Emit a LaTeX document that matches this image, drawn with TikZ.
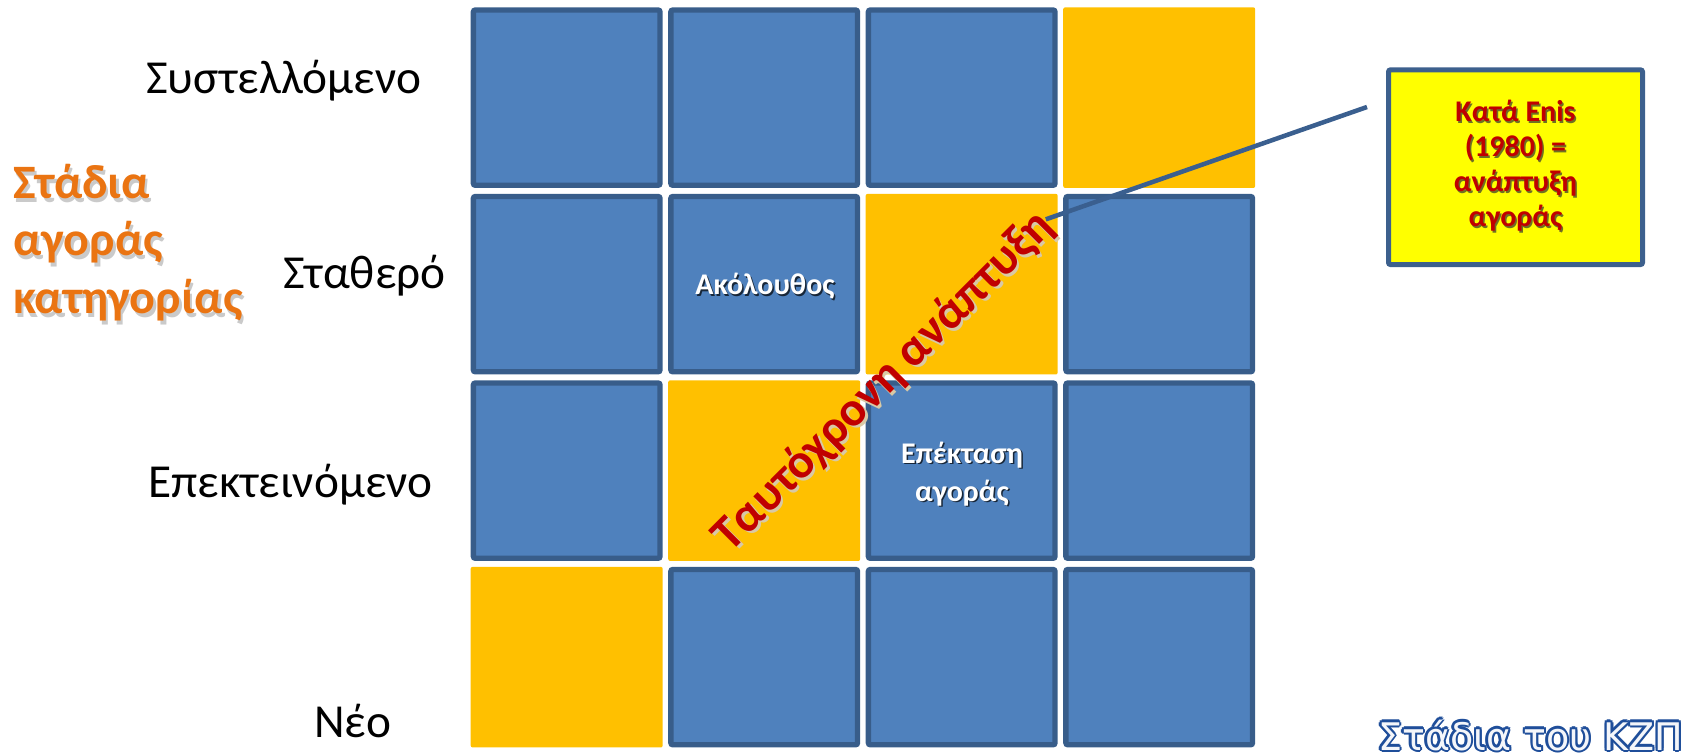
\documentclass[tikz,border=0pt]{standalone}
\usepackage{fontspec}
\setmainfont{Carlito}
\newfontfamily\kzpfont{DejaVu Sans}
\usetikzlibrary{calc}
\definecolor{cellblue}{HTML}{4F81BD}
\definecolor{cellborder}{HTML}{385D8A}
\definecolor{cellyellow}{HTML}{FFC000}
\definecolor{boxyellow}{HTML}{FFFF00}
\definecolor{boxborder}{HTML}{3D608D}
\definecolor{linkblue}{HTML}{3A5F8F}
\definecolor{darkred}{HTML}{C00000}
\definecolor{stageorange}{HTML}{EA7412}
\definecolor{kzpblue}{HTML}{1F4E9A}
\definecolor{kzpfill}{HTML}{F4F6FA}
\definecolor{glow}{HTML}{D8C9A6}
\begin{document}
\begin{tikzpicture}[x=0.75pt,y=-0.75pt,
  bcell/.style={rectangle, draw=cellborder, fill=cellblue, line width=4pt,
    minimum width=140pt, minimum height=131.5pt, inner sep=0pt, outer sep=0pt, rounded corners=1.5pt},
  ycell/.style={rectangle, fill=cellyellow, draw=none,
    minimum width=144pt, minimum height=135.5pt, inner sep=0pt, outer sep=0pt, rounded corners=1.5pt},
  lab/.style={inner sep=0pt, anchor=base west, font=\fontsize{35.5}{42}\selectfont, text=black},
  stage/.style={inner sep=0pt, anchor=base west, font=\bfseries\fontsize{36}{43}\selectfont, text=stageorange},
  stageshadow/.style={stage, text=black!35, opacity=0.6},
  celltext/.style={inner sep=0pt, anchor=base, font=\bfseries\fontsize{22.5}{27}\selectfont, text=white},
  celltextshadow/.style={celltext, text=black, opacity=0.7},
  diagtext/.style={inner sep=0pt, anchor=base, rotate=45, font=\bfseries\fontsize{36.5}{42}\selectfont, text=darkred},
  diagshadow/.style={diagtext, text=glow},
  boxtext/.style={inner sep=0pt, anchor=base, font=\bfseries\fontsize{22.5}{27}\selectfont, text=darkred},
  boxtextshadow/.style={boxtext, text=black!80, opacity=0.7},
  callout/.style={rectangle, draw=boxborder, fill=boxyellow, line width=3.75pt,
    minimum width=190.5pt, minimum height=146pt, inner sep=0pt, rounded corners=1.5pt},
  conn/.style={draw=linkblue, line width=3.4pt},
  kzp/.style={inner sep=0pt, anchor=base west, font=\kzpfont\fontsize{28.5}{34}\selectfont}
]
\useasboundingbox (0,0) rectangle (1697,756);

% grid of cells
\foreach \r in {0,1,2,3}{
  \foreach \c in {0,1,2,3}{
    \pgfmathtruncatemacro\s{\r+\c}
    \ifnum\s=3
      \node[ycell] (c\r\c) at ({566.7+197.5*\c},{97.65+186.5*\r}) {};
    \else
      \node[bcell] (c\r\c) at ({566.7+197.5*\c},{97.65+186.5*\r}) {};
    \fi
  }
}

% row labels
\node[lab] (lsys) at (146,94) {Συστελλόμενο};
\node[lab] (lsta) at (283,288) {Σταθερό};
\node[lab] (lepe) at (148,497.3) {Επεκτεινόμενο};
\node[lab] (lneo) at (314,737.7) {Νέο};

% axis title
\node[stageshadow] (s1s) at (15.5,202.5) {Στάδια};
\node[stageshadow] (s2s) at (15.5,259.5) {αγοράς};
\node[stageshadow] (s3s) at (15.5,317.5) {κατηγορίας};
\node[stage] (s1) at (13,199) {Στάδια};
\node[stage] (s2) at (13,256) {αγοράς};
\node[stage] (s3) at (13,314) {κατηγορίας};

% cell texts
\node[celltextshadow] (akos) at (766.5,296.5) {Ακόλουθος};
\node[celltext] (ako) at (765,295) {Ακόλουθος};
\node[celltextshadow] (ep1s) at (963.5,464.5) {Επέκταση};
\node[celltextshadow] (ep2s) at (963.5,502.5) {αγοράς};
\node[celltext] (ep1) at (962,463) {Επέκταση};
\node[celltext] (ep2) at (962,501) {αγοράς};

% diagonal text
\node[diagshadow] (diags) at (895.5,393.5) {Ταυτόχρονη ανάπτυξη};
\node[diagtext] (diag) at (893,391) {Ταυτόχρονη ανάπτυξη};

% callout box
\node[callout] (box) at (1515.5,167.2) {};
\coordinate (linkend) at (1367,107);
\draw[conn] (diag.east) -- (linkend);
\node[boxtextshadow] (b1s) at (1517,123.2) {Κατά Enis};
\node[boxtextshadow] (b2s) at (1517,158.2) {(1980) =};
\node[boxtextshadow] (b3s) at (1517,193.2) {ανάπτυξη};
\node[boxtextshadow] (b4s) at (1517,228.2) {αγοράς};
\node[boxtext] (b1) at (1515.5,121.7) {Κατά Enis};
\node[boxtext] (b2) at (1515.5,156.7) {(1980) =};
\node[boxtext] (b3) at (1515.5,191.7) {ανάπτυξη};
\node[boxtext] (b4) at (1515.5,226.7) {αγοράς};

% bottom-right title (outlined)
\foreach \a in {0,45,...,315}{
  \node[kzp, text=kzpblue] at ($(1378,750)+(\a:2.4)$) {Στάδια του ΚΖΠ};
}
\node[kzp, text=kzpfill] (kzp) at (1378,750) {Στάδια του ΚΖΠ};
\end{tikzpicture}
\end{document}
